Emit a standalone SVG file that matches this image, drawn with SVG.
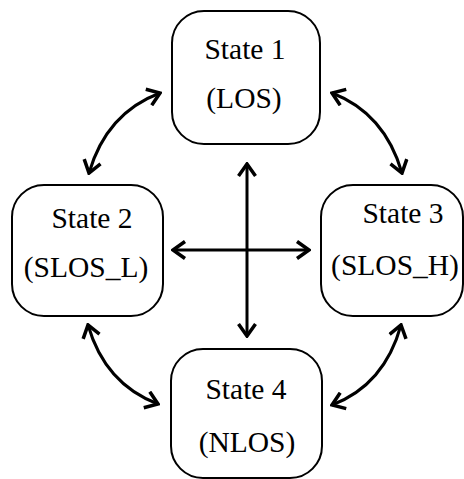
<svg xmlns="http://www.w3.org/2000/svg" width="464" height="479" viewBox="0 0 464 479">
<defs>
<style>
.box{fill:#fff;stroke:#000;stroke-width:2}
.lbl{font-family:'Liberation Serif','Times New Roman','DejaVu Serif',serif;font-size:29.5px;fill:#000;text-anchor:middle}
.conn{fill:none;stroke:#000;stroke-width:3;marker-start:url(#ah);marker-end:url(#ah)}
</style>
<marker id="ah" markerUnits="userSpaceOnUse" viewBox="-14 -10 16 20" refX="0" refY="0" markerWidth="16" markerHeight="20" orient="auto-start-reverse">
<path d="M-12,-8.5 L0,0 L-12,8.5" fill="none" stroke="#000" stroke-width="3.5" stroke-linejoin="miter"/>
</marker>
</defs>
<rect width="464" height="479" fill="#fff"/>
<g id="connectors">
<path class="conn" d="M173,250 L309,250"/>
<path class="conn" d="M247,164 L247,336"/>
<path class="conn" d="M89,173 Q106.5,113 160,93"/>
<path class="conn" d="M332,93 Q384.5,113 402,173"/>
<path class="conn" d="M88,325 Q105,384 158,404"/>
<path class="conn" d="M401,325 Q384.5,385 332,405"/>
</g>
<g id="state1">
<rect class="box" x="172" y="11" width="148" height="133" rx="32"/>
<text class="lbl" font-family="Liberation Serif, serif" x="245" y="59">State 1</text>
<text class="lbl" font-family="Liberation Serif, serif" x="244" y="108">(LOS)</text>
</g>
<g id="state2">
<rect class="box" x="12" y="185" width="151" height="131" rx="32"/>
<text class="lbl" font-family="Liberation Serif, serif" x="92" y="228">State 2</text>
<text class="lbl" font-family="Liberation Serif, serif" x="86" y="277">(SLOS_L)</text>
</g>
<g id="state3">
<rect class="box" x="321" y="185" width="142" height="131" rx="32"/>
<text class="lbl" font-family="Liberation Serif, serif" x="403" y="223">State 3</text>
<text class="lbl" font-family="Liberation Serif, serif" x="395" y="275">(SLOS_H)</text>
</g>
<g id="state4">
<rect class="box" x="171" y="349" width="151" height="129" rx="32"/>
<text class="lbl" font-family="Liberation Serif, serif" x="246" y="399">State 4</text>
<text class="lbl" font-family="Liberation Serif, serif" x="247" y="452">(NLOS)</text>
</g>
</svg>
